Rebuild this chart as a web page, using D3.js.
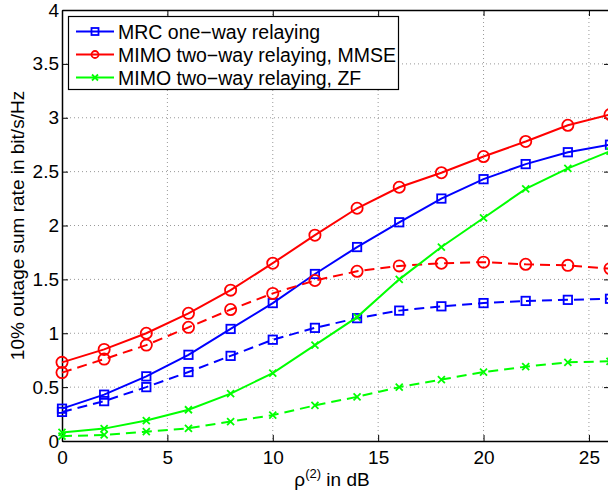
<!DOCTYPE html>
<html>
    <head>
        <script src="https://d3js.org/d3.v7.min.js"></script>
        <style>
            body{ margin:0; background:#fff; }
            svg{ font-family: "Liberation Sans", Arial, Helvetica, sans-serif; }
        </style>
    </head>
    <body>
        <svg id="svg" width="608" height="493"></svg>
        <script>
            // values
            var snr = [0,2,4,6,8,10,12,14,16,18,20,22,24,26];
            var mrcSolid  = [0.30,0.43,0.60,0.80,1.04,1.28,1.55,1.80,2.03,2.25,2.43,2.57,2.68,2.75];
            var mrcDash   = [0.27,0.37,0.50,0.64,0.79,0.94,1.05,1.14,1.21,1.25,1.28,1.30,1.31,1.32];
            var mmseSolid = [0.73,0.85,1.00,1.185,1.40,1.65,1.91,2.16,2.355,2.49,2.64,2.78,2.93,3.03];
            var mmseDash  = [0.635,0.76,0.89,1.055,1.22,1.37,1.49,1.575,1.625,1.65,1.66,1.64,1.63,1.60];
            var zfSolid   = [0.08,0.115,0.19,0.29,0.44,0.63,0.89,1.15,1.50,1.80,2.07,2.34,2.53,2.69];
            var zfDash    = [0.045,0.056,0.086,0.118,0.18,0.24,0.33,0.41,0.50,0.57,0.64,0.69,0.73,0.74];
            var xTicks = [0,5,10,15,20,25];
            var yTicks = [0,0.5,1,1.5,2,2.5,3,3.5,4];
            var legendNames = ["MRC one\u2212way relaying", "MIMO two\u2212way relaying, MMSE", "MIMO two\u2212way relaying, ZF"];

            var series = [
                {name:legendNames[0], color:"#0000ff", marker:"square", dashed:false, values:mrcSolid},
                {name:legendNames[0], color:"#0000ff", marker:"square", dashed:true,  values:mrcDash},
                {name:legendNames[1], color:"#ff0000", marker:"circle", dashed:false, values:mmseSolid},
                {name:legendNames[1], color:"#ff0000", marker:"circle", dashed:true,  values:mmseDash},
                {name:legendNames[2], color:"#00ff00", marker:"cross",  dashed:false, values:zfSolid},
                {name:legendNames[2], color:"#00ff00", marker:"cross",  dashed:true,  values:zfDash}
            ];

            var svg = d3.select("svg");
            var pLeft = 62, pRight = 610, pTop = 10, pBottom = 441;
            var fs = 19;

            var x = d3.scaleLinear().domain([0,26]).range([pLeft,pRight]);
            var y = d3.scaleLinear().domain([0,4]).range([pBottom,pTop]);

            // grid
            var grid = svg.append("g").attr("stroke","#999").attr("stroke-width",1).attr("stroke-dasharray","1,3");
            grid.selectAll(".gx").data(xTicks.slice(1)).enter().append("line")
                .attr("x1",function(d){return x(d);}).attr("x2",function(d){return x(d);})
                .attr("y1",pTop).attr("y2",pBottom);
            grid.selectAll(".gy").data(yTicks.slice(1,-1)).enter().append("line")
                .attr("y1",function(d){return y(d);}).attr("y2",function(d){return y(d);})
                .attr("x1",pLeft).attr("x2",pRight);

            // axes (matlab box, ticks inside)
            var axB = svg.append("g").attr("transform","translate(0,"+pBottom+")")
                .call(d3.axisBottom(x).tickValues(xTicks).tickSizeInner(-6).tickSizeOuter(0).tickPadding(10));
            var axT = svg.append("g").attr("transform","translate(0,"+pTop+")")
                .call(d3.axisTop(x).tickValues(xTicks).tickSizeInner(-6).tickSizeOuter(0).tickFormat(""));
            var axL = svg.append("g").attr("transform","translate("+pLeft+",0)")
                .call(d3.axisLeft(y).tickValues(yTicks).tickSizeInner(-6).tickSizeOuter(0).tickPadding(3)
                    .tickFormat(function(d){return String(d);}));
            var axR = svg.append("g").attr("transform","translate("+pRight+",0)")
                .call(d3.axisRight(y).tickValues(yTicks).tickSizeInner(-6).tickSizeOuter(0).tickFormat(""));
            [axB,axT,axL,axR].forEach(function(a){
                a.select(".domain").attr("stroke","#000").attr("stroke-width",1.5);
                a.selectAll(".tick line").attr("stroke","#000").attr("stroke-width",1);
                a.selectAll("text").attr("font-size",fs).attr("fill","#000").attr("font-family","Liberation Sans, Arial, sans-serif");
            });

            var line = d3.line().x(function(d,i){return x(snr[i]);}).y(function(d){return y(d);});

            function drawMarker(g, type, color, cx, cy, s){
                if(type=="square"){
                    g.append("rect").attr("x",cx-s).attr("y",cy-s).attr("width",2*s).attr("height",2*s)
                        .attr("fill","none").attr("stroke",color).attr("stroke-width",1.8);
                } else if(type=="circle"){
                    g.append("circle").attr("cx",cx).attr("cy",cy).attr("r",s)
                        .attr("fill","none").attr("stroke",color).attr("stroke-width",1.8);
                } else {
                    g.append("path").attr("d","M"+(cx-s)+","+(cy-s)+"L"+(cx+s)+","+(cy+s)+"M"+(cx-s)+","+(cy+s)+"L"+(cx+s)+","+(cy-s))
                        .attr("stroke",color).attr("stroke-width",1.8);
                }
            }
            var mSize = {square:4.2, circle:5.6, cross:3.5};

            var plot = svg.append("g");
            series.forEach(function(s){
                plot.append("path").attr("d",line(s.values))
                    .attr("fill","none").attr("stroke",s.color).attr("stroke-width",2)
                    .attr("stroke-dasharray",s.dashed ? "10,6" : null);
                var gm = plot.append("g");
                s.values.forEach(function(v,i){
                    drawMarker(gm, s.marker, s.color, x(snr[i]), y(v), mSize[s.marker]);
                });
            });

            // legend
            var lg = svg.append("g");
            lg.append("rect").attr("x",68.5).attr("y",16.5).attr("width",330).attr("height",73)
                .attr("fill","#fff").attr("stroke","#000").attr("stroke-width",1.2);
            [0,2,4].forEach(function(k,j){
                var s = series[k];
                var ly = 31.5 + j*23;
                lg.append("line").attr("x1",76).attr("x2",114).attr("y1",ly).attr("y2",ly)
                    .attr("stroke",s.color).attr("stroke-width",2);
                drawMarker(lg, s.marker, s.color, 95, ly, s.marker=="cross" ? 3 : 3.5);
                lg.append("text").attr("x",118).attr("y",ly+7).attr("font-size",19.5).text(s.name);
            });

            // labels
            var xl = svg.append("text").attr("x",332).attr("y",486).attr("text-anchor","middle").attr("font-size",fs);
            xl.append("tspan").text("\u03c1");
            xl.append("tspan").attr("dy",-8).attr("font-size",13).text("(2)");
            xl.append("tspan").attr("dy",8).text(" in dB");

            svg.append("text").attr("transform","translate(24,"+((pTop+pBottom)/2)+") rotate(-90)")
                .attr("text-anchor","middle").attr("font-size",fs).text("10% outage sum rate in bit/s/Hz");
        </script>
    </body>
</html>
